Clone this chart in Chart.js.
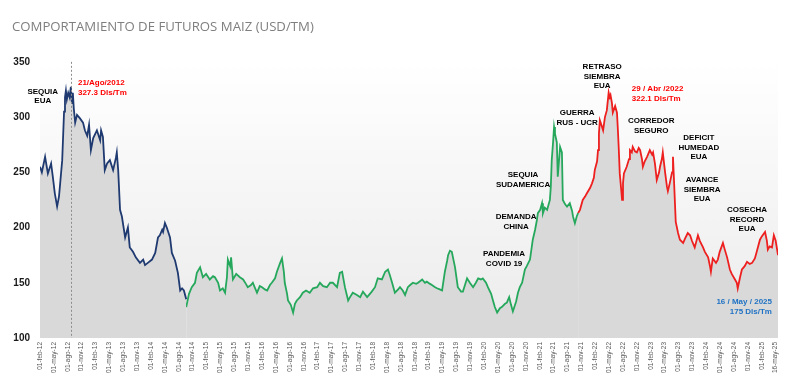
<!DOCTYPE html>
<html lang="es">
<head>
  <meta charset="UTF-8">
  <title>Futuros Maiz</title>
  <script src="https://cdn.jsdelivr.net/npm/chart.js"></script>
  <style>
    body { margin: 0; background: #fff; }
  </style>
</head>
<body>
  <canvas id="grafico" width="800" height="380"></canvas>

  <script>
    // meses contados desde 01-feb-2012, precio USD/TM
    const tickLabels = [
      '01-feb-12','01-may-12','01-ago-12','01-nov-12',
      '01-feb-13','01-may-13','01-ago-13','01-nov-13',
      '01-feb-14','01-may-14','01-ago-14','01-nov-14',
      '01-feb-15','01-may-15','01-ago-15','01-nov-15',
      '01-feb-16','01-may-16','01-ago-16','01-nov-16',
      '01-feb-17','01-may-17','01-ago-17','01-nov-17',
      '01-feb-18','01-may-18','01-ago-18','01-nov-18',
      '01-feb-19','01-may-19','01-ago-19','01-nov-19',
      '01-feb-20','01-may-20','01-ago-20','01-nov-20',
      '01-feb-21','01-may-21','01-ago-21','01-nov-21',
      '01-feb-22','01-may-22','01-ago-22','01-nov-22',
      '01-feb-23','01-may-23','01-ago-23','01-nov-23',
      '01-feb-24','01-may-24','01-ago-24','01-nov-24',
      '01-feb-25','16-may-25'
    ];

    const mesesAzul = [0,0.4,1.1,1.7,2.4,2.8,3.2,3.7,4.1,4.3,4.8,5.2,5.4,5.6,5.8,6.1,6.4,6.67,6.9,7.1,7.3,7.6,8.0,8.6,9.3,9.7,10.2,10.6,11.0,11.5,12.3,13.0,13.2,13.6,14.0,14.5,15.1,15.8,16.4,16.6,16.9,17.3,17.7,18.4,19.0,19.4,20.1,20.7,21.6,22.3,22.7,23.3,24.2,24.9,25.5,25.9,26.4,26.6,27.0,27.4,28.1,28.5,29.2,29.8,30.3,30.7,31.1,31.6];
    const preciosAzul = [255,250,264,249,258,245,231,219,228,237,261,305,318,324,316,322,318,327.3,312,322,308,295,302,299,295,288,283,293,270,281,288,279,288,282,252,258,261,252,263,268,252,216,210,191,200,182,178,173,168,171,166,168,171,177,191,193,198,196,204,200,191,177,170,159,143,145,143,135,128];

    const mesesVerde = [31.6,32.2,32.8,33.5,33.9,34.6,35.2,35.9,36.7,37.4,37.8,38.5,38.9,39.5,40.0,40.4,40.6,41.1,41.3,41.7,42.4,43.2,43.9,44.5,44.9,45.6,46.0,46.5,46.9,47.5,48.0,48.6,49.1,49.7,50.1,50.8,51.2,51.9,52.3,52.7,52.9,53.4,53.6,54.2,54.7,55.1,55.5,56.2,56.8,57.5,58.3,59.0,59.9,60.5,61.2,62.0,62.7,63.3,64.2,64.8,65.3,65.9,66.6,67.0,67.6,68.5,69.2,69.8,70.7,71.3,71.7,72.4,73.0,73.9,74.6,75.2,75.6,76.1,76.7,77.4,77.8,78.4,78.9,79.5,80.0,80.6,81.3,81.7,82.6,83.2,83.6,84.3,84.7,85.4,85.8,86.4,86.9,87.5,88.0,88.2,88.6,89.0,89.5,89.7,90.3,91.0,91.4,92.3,92.9,93.6,94.2,94.7,95.3,95.7,96.4,96.8,97.5,97.9,98.3,98.8,99.4,99.8,100.5,100.9,101.4,101.8,102.2,102.9,103.3,103.7,104.2,104.8,105.2,105.9,106.5,107.0,107.4,107.6,108.1,108.5,108.7,109.1,109.6,110.2,110.4,110.6,110.9,111.1,111.3,111.7,111.9,112.4,112.8,113.0,113.5,113.9,114.5,115.0,115.2,115.6,116.0,116.3];
    const preciosVerde = [128,140,146,150,159,164,155,158,153,156,155,150,143,145,141,155,171,165,173,153,158,155,153,149,146,148,150,145,141,147,146,144,143,148,150,154,160,168,172,160,150,140,134,130,123,131,134,137,141,143,141,145,146,150,147,146,150,150,146,159,160,146,134,137,141,139,137,142,137,140,142,146,154,153,160,162,157,150,141,144,146,143,139,146,148,150,149,150,153,150,151,149,148,146,145,144,143,160,170,175,179,178,168,164,146,142,142,154,150,146,150,154,153,154,150,146,140,134,128,123,127,128,131,132,137,130,124,133,141,146,150,162,165,171,189,198,207,213,216,222,213,218,216,225,237,261,278,291,285,277,246,273,268,225,221,219,222,215,210,204,210,213];

    const mesesRojo = [116.3,116.7,117.3,117.8,118.2,118.9,119.3,119.7,119.9,120.4,120.6,120.8,121.0,121.4,121.7,122.1,122.5,122.9,123.1,123.3,123.6,123.8,124.3,124.7,124.9,125.1,125.3,125.6,125.8,126.0,126.2,126.8,127.3,127.5,127.9,128.1,128.6,129.0,129.4,129.7,130.1,130.3,130.7,131.2,131.6,131.8,132.3,132.5,132.9,133.3,133.8,134.0,134.4,134.6,135.1,135.5,135.7,136.1,136.6,136.8,137.0,137.2,137.4,137.9,138.3,139.0,139.4,140.0,140.5,140.9,141.5,142.2,142.6,143.3,143.7,144.4,144.8,145.0,145.4,146.1,146.5,146.9,147.6,148.0,148.5,149.1,149.5,150.2,150.6,150.8,151.3,151.7,152.3,152.8,153.4,153.9,154.5,154.9,155.6,156.0,156.7,157.1,157.3,157.7,158.2,158.6,159.0,159.5];
    const preciosRojo = [213,216,225,228,231,236,240,245,252,260,270,285,297,292,288,300,306,322.1,318,320,313,304,310,304,288,270,249,235,225,240,249,255,262,270,268,273,269,268,272,270,262,255,260,264,268,270,266,268,258,243,250,255,262,268,250,237,233,240,250,264,245,225,205,195,189,186,190,195,193,188,182,193,188,182,178,173,165,160,172,168,171,178,186,180,173,162,158,153,150,145,155,162,165,169,167,168,172,178,189,192,196,188,180,183,182,193,188,175];

    // marca vertical del maximo 2012
    const mesMaximo2012 = 6.67;

    // notas del grafico: [lineas, mes, precio, color, alineacion]
    const notas = [
      [['SEQUIA', 'EUA'], 0.6, 323, '#000', 'center'],
      [['21/Ago/2012', '327.3 Dls/Tm'], 8.2, 331, '#ff0000', 'left'],
      [['RETRASO', 'SIEMBRA', 'EUA'], 121.5, 345.5, '#000', 'center'],
      [['29 / Abr /2022', '322.1 Dls/Tm'], 127.9, 325.5, '#ff0000', 'left'],
      [['GUERRA', 'RUS - UCR'], 116.1, 303.8, '#000', 'center'],
      [['CORREDOR', 'SEGURO'], 132.1, 296.6, '#000', 'center'],
      [['DEFICIT', 'HUMEDAD', 'EUA'], 142.4, 281.2, '#000', 'center'],
      [['AVANCE', 'SIEMBRA', 'EUA'], 143.1, 243.1, '#000', 'center'],
      [['SEQUIA', 'SUDAMERICA'], 104.4, 247.6, '#000', 'center'],
      [['DEMANDA', 'CHINA'], 102.9, 209.6, '#000', 'center'],
      [['PANDEMIA', 'COVID 19'], 100.3, 176.1, '#000', 'center'],
      [['COSECHA', 'RECORD', 'EUA'], 152.8, 216, '#000', 'center'],
      [['16 / May / 2025', '175 Dls/Tm'], 158.2, 132.6, '#1f72c4', 'right']
    ];

    function puntos(meses, precios) {
      return meses.map((m, i) => ({ x: m, y: precios[i] }));
    }

    const fondoPlugin = {
      id: 'fondo',
      beforeDatasetsDraw(chart) {
        const { ctx, chartArea: a } = chart;
        const g = ctx.createLinearGradient(0, a.top, 0, a.bottom);
        g.addColorStop(0, '#ffffff');
        g.addColorStop(1, '#ebebeb');
        ctx.save();
        ctx.fillStyle = g;
        ctx.fillRect(a.left, a.top, a.right - a.left, a.bottom - a.top);
        ctx.restore();
      },
      afterDatasetsDraw(chart) {
        const { ctx, chartArea: a, scales } = chart;
        const x = Math.round(scales.x.getPixelForValue(mesMaximo2012)) + 0.5;
        ctx.save();
        ctx.strokeStyle = '#8c8c8c';
        ctx.lineWidth = 1;
        ctx.setLineDash([2, 2]);
        ctx.beginPath();
        ctx.moveTo(x, a.top);
        ctx.lineTo(x, a.bottom);
        ctx.stroke();
        ctx.setLineDash([]);

        ctx.font = 'bold 8px "Liberation Sans", Arial, sans-serif';
        ctx.textBaseline = 'middle';
        notas.forEach(n => {
          const px = scales.x.getPixelForValue(n[1]);
          const py = scales.y.getPixelForValue(n[2]);
          ctx.fillStyle = n[3];
          ctx.textAlign = n[4];
          n[0].forEach((t, i) => ctx.fillText(t, px, py + i * 9.5));
        });
        ctx.restore();
      }
    };

    const serie = (datos, color) => ({
      data: datos,
      borderColor: color,
      borderWidth: 1.8,
      backgroundColor: '#d9d9d9',
      fill: 'start',
      pointRadius: 0,
      tension: 0
    });

    new Chart(document.getElementById('grafico'), {
      type: 'line',
      data: {
        datasets: [
          serie(puntos(mesesAzul, preciosAzul), '#1f3a70'),
          serie(puntos(mesesVerde, preciosVerde), '#25a85c'),
          serie(puntos(mesesRojo, preciosRojo), '#ee1f1f')
        ]
      },
      options: {
        responsive: false,
        animation: false,
        layout: { padding: { left: 12, right: 22, top: 0, bottom: 0 } },
        plugins: {
          legend: { display: false },
          tooltip: { enabled: false },
          title: {
            display: true,
            text: 'COMPORTAMIENTO DE FUTUROS MAIZ (USD/TM)',
            align: 'start',
            color: '#7f7f7f',
            font: { family: '"Open Sans", sans-serif', size: 13.2, weight: 'normal' },
            padding: { top: 19, bottom: 27 }
          }
        },
        scales: {
          x: {
            type: 'linear',
            min: 0,
            max: 159.5,
            grid: { display: false, drawTicks: false },
            border: { display: false },
            afterFit(s) { s.height = 42; },
            ticks: {
              stepSize: 3,
              includeBounds: false,
              autoSkip: false,
              maxRotation: 90,
              minRotation: 90,
              padding: 4,
              color: '#595959',
              font: { family: '"Liberation Sans", Arial, sans-serif', size: 6.5 },
              callback: v => tickLabels[Math.round(v / 3)]
            }
          },
          y: {
            min: 100,
            max: 350,
            grid: { display: false, drawTicks: false },
            border: { display: false },
            afterFit(s) { s.width = 28; },
            ticks: {
              stepSize: 50,
              padding: 10,
              color: '#1a1a1a',
              font: { family: '"Liberation Sans", Arial, sans-serif', size: 10, weight: 'bold' }
            }
          }
        }
      },
      plugins: [fondoPlugin]
    });
  </script>
</body>
</html>
